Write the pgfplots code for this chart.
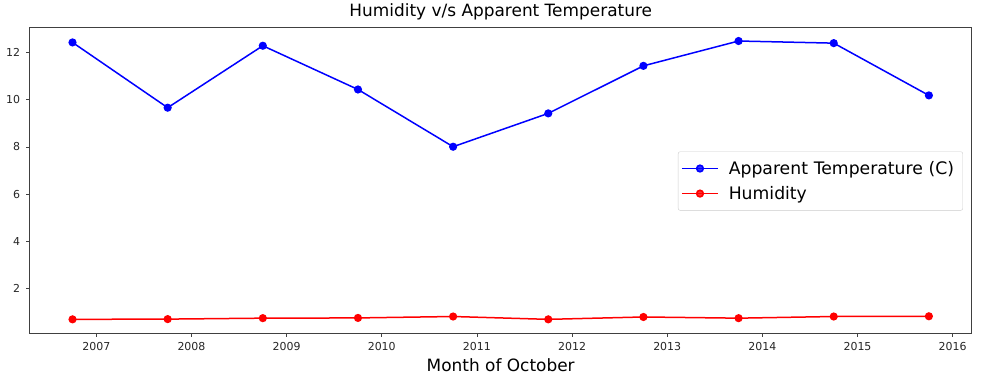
\documentclass[border=0pt]{standalone}
\usepackage{fontspec}
\setmainfont{DejaVu Sans}
\usepackage{pgfplots}
\pgfplotsset{compat=1.18}
\definecolor{spine}{gray}{0.25}
\definecolor{legedge}{gray}{0.8}
\begin{document}
\begin{tikzpicture}
\useasboundingbox (-29.7bp,-51.7bp) rectangle (955.3bp,333.3bp);
\begin{axis}[
  scale only axis,
  width=942bp, height=306bp,
  xmin=2006.3, xmax=2016.2,
  ymin=0.12, ymax=13.06,
  xtick={2007,2008,...,2016},
  ytick={2,4,6,8,10,12},
  xticklabel style={/pgf/number format/1000 sep={}},
  /pgf/number format/assume math mode=true,
  /pgf/number format/1000 sep={},
  tick align=outside,
  xtick pos=left, ytick pos=left,
  major tick length=3.5bp,
  tick style={spine, line width=0.8bp},
  axis line style={spine, line width=0.8bp},
  ticklabel style={font=\fontsize{11}{13}\selectfont, text=black!85},
  yticklabel style={inner sep=0pt, xshift=-6bp},
  xticklabel style={inner sep=0pt, yshift=-5bp},
  title={Humidity v/s Apparent Temperature},
  title style={font=\fontsize{17}{20}\selectfont, at={(axis description cs:0.5,1)}, anchor=base, inner sep=0pt, yshift=5bp},
  xlabel={Month of October},
  xlabel style={font=\fontsize{17}{20}\selectfont, at={(axis description cs:0.5,0)}, anchor=base, inner sep=0pt, yshift=-37.7bp},
  legend cell align=left,
  legend image code/.code={\draw[mark repeat=2,mark phase=2,#1,line width=1.6bp] plot coordinates {(0bp,0bp) (18bp,0bp) (36bp,0bp)};},
  legend style={at={(axis description cs:0.6882,0.594)}, anchor=north west,
    draw=legedge, rounded corners=2bp, fill=white, fill opacity=0.8, text opacity=1,
    font=\fontsize{17.3}{20}\selectfont, inner xsep=3bp, inner ysep=7.5bp,
    row sep=6.5bp,
    /tikz/every odd column/.append style={column sep=8bp},
    /tikz/every even column/.append style={text width=229bp}},
]
\addplot[color=blue, line width=1.5bp, mark=*, mark size=3.3bp, mark options={solid, fill=blue}]
coordinates {
(2006.75,12.42) (2007.75,9.66) (2008.75,12.28) (2009.75,10.43) (2010.75,8.01)
(2011.75,9.42) (2012.75,11.43) (2013.75,12.48) (2014.75,12.39) (2015.75,10.18)
};
\addlegendentry{Apparent Temperature (C)}
\addplot[color=red, line width=1.5bp, mark=*, mark size=3.3bp, mark options={solid, fill=red}]
coordinates {
(2006.75,0.71) (2007.75,0.72) (2008.75,0.76) (2009.75,0.77) (2010.75,0.83)
(2011.75,0.71) (2012.75,0.81) (2013.75,0.76) (2014.75,0.83) (2015.75,0.84)
};
\addlegendentry{Humidity}
\end{axis}
\end{tikzpicture}
\end{document}
